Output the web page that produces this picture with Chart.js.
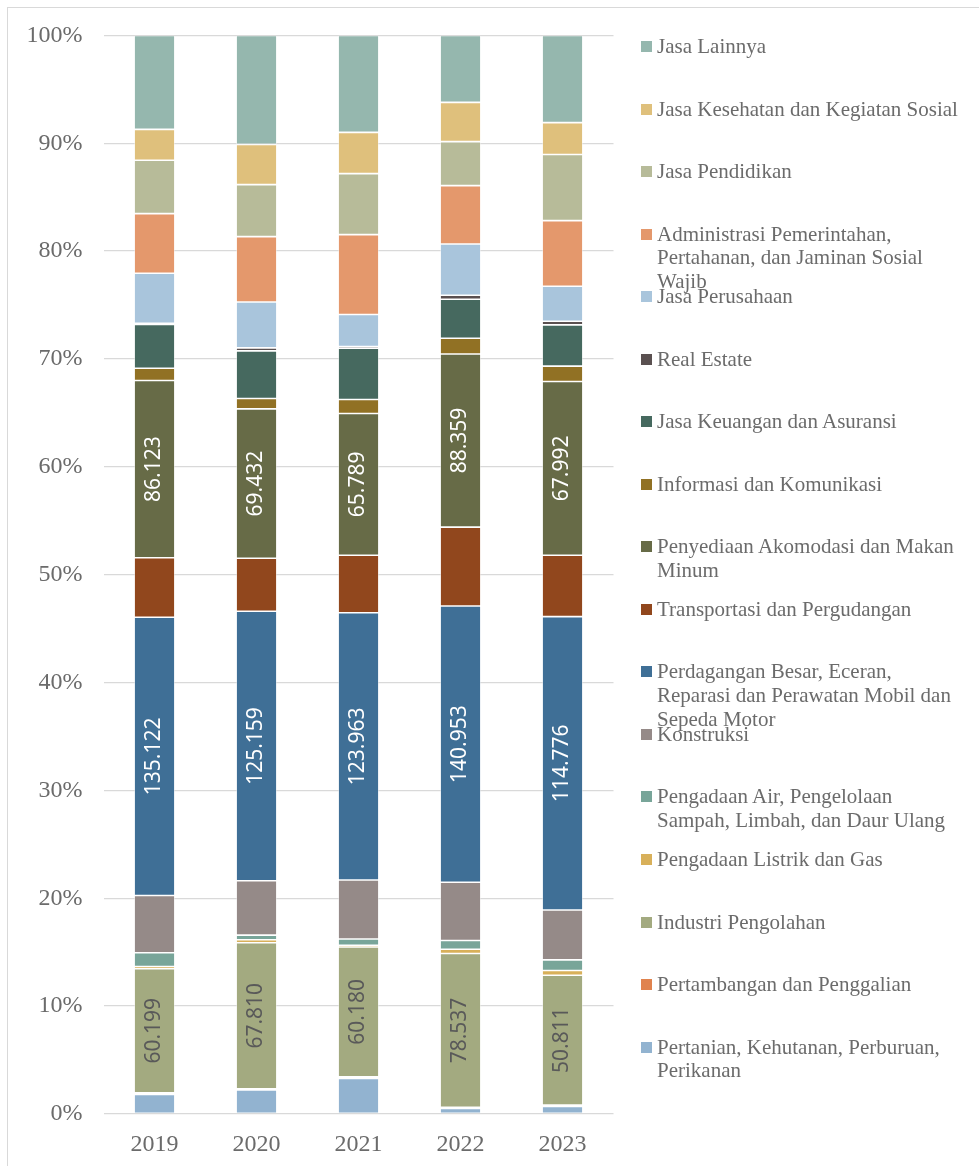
<!DOCTYPE html>
<html>
<head>
<meta charset="utf-8">
<script src="https://cdn.jsdelivr.net/npm/chart.js@4.4.1/dist/chart.umd.min.js"></script>
<style>
  html, body { margin: 0; padding: 0; background: #fff; overflow: hidden; }
  #wrap { position: relative; width: 979px; height: 1166px; }
  #frame { position: absolute; left: 7px; top: 7px; width: 1000px; height: 1200px;
           border-left: 1.5px solid #d9d9d9; border-top: 1.5px solid #d9d9d9; }
  #chart { position: absolute; left: 0; top: 0; }
  #legend { position: absolute; left: 641px; top: 35px; font-family: "Liberation Serif", serif;
            font-size: 21px; line-height: 23.7px; color: #6b6b6b; }
  .item { position: absolute; left: 0; width: 330px; }
  .box { position: absolute; left: 0; top: 6px; width: 11px; height: 11px; }
  .txt { position: absolute; left: 16px; width: 306px; }
</style>
</head>
<body>
<div id="wrap">
  <div id="frame"></div>
  <canvas id="chart" width="979" height="1166"></canvas>
  <div id="legend"></div>
</div>
<script>
const years = ['2019', '2020', '2021', '2022', '2023'];

// nilai per lapangan usaha
const pertanian = [9540, 11120, 16510, 2860, 2950];
const pertambangan = [790, 600, 800, 500, 550];
const industri = [60199, 67810, 60180, 78537, 50811];
const listrik = [1150, 1400, 750, 2200, 1860];
const air = [6650, 2150, 2950, 4460, 4140];
const konstruksi = [27820, 25250, 27370, 29730, 19540];
const perdagangan = [135122, 125159, 123963, 140953, 114776];
const transportasi = [28930, 24600, 26620, 40300, 24010];
const akomodasi = [86123, 69432, 65789, 88359, 67992];
const informasi = [5970, 4810, 6500, 8040, 5990];
const keuangan = [21220, 22090, 23760, 19870, 16160];
const realEstate = [630, 1400, 800, 2040, 1430];
const perusahaan = [24260, 21340, 14810, 26150, 13670];
const administrasi = [28980, 30360, 37070, 29780, 25700];
const pendidikan = [25890, 24150, 28320, 22460, 25830];
const kesehatan = [15040, 18690, 19110, 20040, 12490];
const lainnya = [45640, 50600, 44980, 34190, 34140];

const series = [
  { label: 'Pertanian, Kehutanan, Perburuan, Perikanan', data: pertanian, color: '#92b3d0' },
  { label: 'Pertambangan dan Penggalian', data: pertambangan, color: '#e0834e' },
  { label: 'Industri Pengolahan', data: industri, color: '#a3aa80', valueColor: '#595959' },
  { label: 'Pengadaan Listrik dan Gas', data: listrik, color: '#d8b05a' },
  { label: 'Pengadaan Air, Pengelolaan Sampah, Limbah, dan Daur Ulang', data: air, color: '#78a599' },
  { label: 'Konstruksi', data: konstruksi, color: '#958a88' },
  { label: 'Perdagangan Besar, Eceran, Reparasi dan Perawatan Mobil dan Sepeda Motor', data: perdagangan, color: '#3f6f96', valueColor: '#ffffff' },
  { label: 'Transportasi dan Pergudangan', data: transportasi, color: '#91471d' },
  { label: 'Penyediaan Akomodasi dan Makan Minum', data: akomodasi, color: '#676b47', valueColor: '#ffffff' },
  { label: 'Informasi dan Komunikasi', data: informasi, color: '#917124' },
  { label: 'Jasa Keuangan dan Asuransi', data: keuangan, color: '#46695f' },
  { label: 'Real Estate', data: realEstate, color: '#5a5050' },
  { label: 'Jasa Perusahaan', data: perusahaan, color: '#a9c5dc' },
  { label: 'Administrasi Pemerintahan, Pertahanan, dan Jaminan Sosial Wajib', data: administrasi, color: '#e4986c' },
  { label: 'Jasa Pendidikan', data: pendidikan, color: '#b7bb99' },
  { label: 'Jasa Kesehatan dan Kegiatan Sosial', data: kesehatan, color: '#dfc07c' },
  { label: 'Jasa Lainnya', data: lainnya, color: '#95b7ae' }
];

const totals = years.map((y, i) => series.reduce((s, d) => s + d.data[i], 0));

function fmt(n) {
  return String(n).replace(/\B(?=(\d{3})+(?!\d))/g, '.');
}

const valueLabels = {
  id: 'valueLabels',
  afterDatasetsDraw(chart) {
    const ctx = chart.ctx;
    chart.data.datasets.forEach((ds, i) => {
      if (!ds.valueColor) return;
      chart.getDatasetMeta(i).data.forEach((bar, j) => {
        const cy = (bar.y + bar.base) / 2;
        ctx.save();
        ctx.translate(bar.x, cy);
        ctx.rotate(-Math.PI / 2);
        ctx.font = '21px "Noto Sans", sans-serif';
        ctx.fillStyle = ds.valueColor;
        ctx.textAlign = 'center';
        ctx.textBaseline = 'middle';
        ctx.fillText(fmt(ds.raw[j]), 0, 0);
        ctx.restore();
      });
    });
  }
};

const chart = new Chart(document.getElementById('chart'), {
  type: 'bar',
  data: {
    labels: years,
    datasets: series.map(s => ({
      label: s.label,
      raw: s.data,
      data: s.data.map((v, i) => v / totals[i] * 100),
      valueColor: s.valueColor,
      backgroundColor: s.color,
      borderColor: 'rgba(255,255,255,0.55)',
      borderWidth: 0.8,
      borderSkipped: false,
      categoryPercentage: 1,
      barPercentage: 0.4
    }))
  },
  options: {
    responsive: false,
    animation: false,
    layout: { padding: { top: 35, right: 365.5, bottom: 0, left: 0 } },
    plugins: { legend: { display: false }, tooltip: { enabled: false } },
    scales: {
      x: {
        stacked: true,
        grid: { display: false },
        border: { display: false },
        ticks: { color: '#6b6b6b', padding: 8, font: { family: 'Liberation Serif', size: 24 } },
        afterFit: s => { s.height = 52; }
      },
      y: {
        stacked: true,
        min: 0,
        max: 100,
        grid: { color: '#d9d9d9', lineWidth: 1.3, drawTicks: false },
        border: { display: false },
        ticks: {
          stepSize: 10,
          padding: 21,
          color: '#6b6b6b',
          font: { family: 'Liberation Serif', size: 24 },
          callback: v => v + '%'
        },
        afterFit: s => { s.width = 103.5; }
      }
    }
  },
  plugins: [valueLabels]
});

// legenda di kanan, urutan dari atas ke bawah
const legendEl = document.getElementById('legend');
series.slice().reverse().forEach((s, i) => {
  const item = document.createElement('div');
  item.className = 'item';
  item.style.top = (i * 62.54) + 'px';
  item.innerHTML = '<span class="box" style="background:' + s.color + '"></span><span class="txt">' + s.label + '</span>';
  legendEl.appendChild(item);
});
</script>
</body>
</html>
